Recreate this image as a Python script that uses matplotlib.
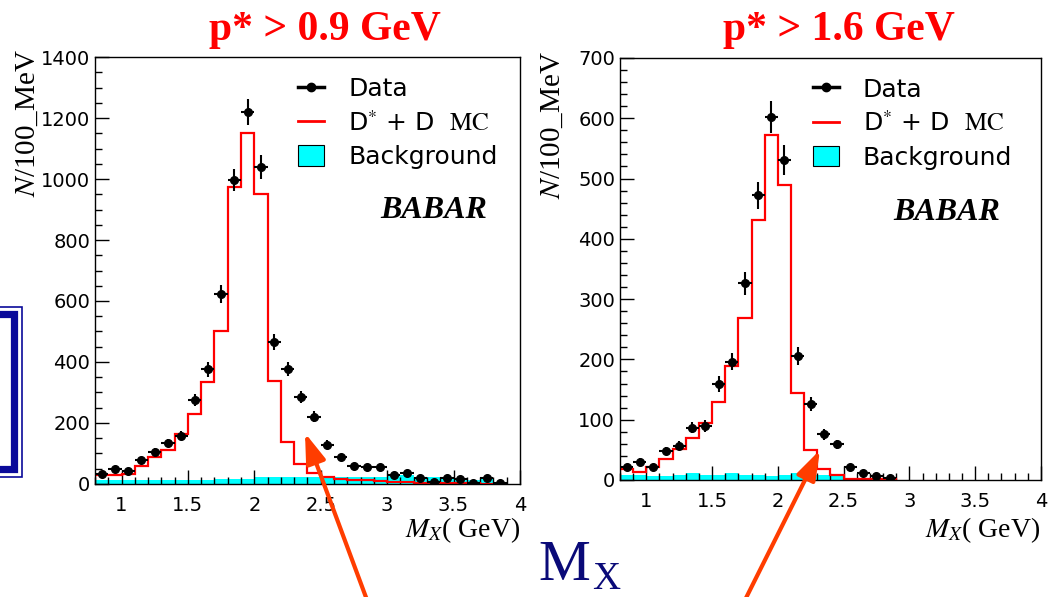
import numpy as np
import matplotlib.pyplot as plt
from matplotlib.lines import Line2D
from matplotlib.patches import Patch, Rectangle
from matplotlib.ticker import MultipleLocator, FuncFormatter

plt.rcParams['mathtext.fontset'] = 'stix'

bin_lo = 0.8
bin_w = 0.1

# p* > 0.9 GeV  (bins start at 0.8, width 0.1)
data_09 = [33, 48, 42, 80, 105, 133, 158, 276, 376, 624, 998, 1220, 1039, 466, 376, 284,
           220, 129, 88, 59, 57, 55, 31, 36, 20, 5, 20, 16, 4, 19, 2]
err_09 = [8, 9, 8, 10, 12, 13, 15, 20, 24, 30, 36, 42, 40, 26, 23, 20,
          18, 14, 11, 9, 9, 9, 7, 7, 6, 4, 6, 5, 3, 5, 3]
mc_09 = [28, 30, 34, 60, 87, 113, 165, 228, 335, 502, 975, 1150, 952, 338, 138, 67,
         35, 22, 16, 13, 12, 9, 7, 7, 3, 2, 2, 2, 2, 1, 1]
bkg_09 = [14, 14, 12, 12, 14, 14, 14, 14, 14, 16, 16, 16, 22, 24, 22, 22,
          22, 24, 22, 22, 24, 24, 28, 28, 24, 22, 22, 20, 12, 16, 3]

# p* > 1.6 GeV
data_16 = [22, 30, 21, 48, 57, 87, 90, 159, 196, 326, 472, 602, 531, 205, 126, 76,
           59, 22, 11, 7, 4]
err_16 = [5, 6, 5, 7, 8, 9, 10, 13, 14, 19, 23, 27, 25, 15, 12, 9,
          8, 5, 4, 3, 2]
mc_16 = [18, 13, 22, 35, 52, 69, 95, 129, 189, 268, 432, 572, 489, 145, 49, 19,
         8, 2, 1, 1, 1]
bkg_16 = [8, 8, 7, 7, 8, 11, 8, 8, 11, 8, 8, 7, 8, 12, 8, 8,
          8, 3, 2, 2, 1]

titles = ["p* > 0.9 GeV", "p* > 1.6 GeV"]
legend_labels = ["Data", r"D$^{*}$ + D  $\mathrm{MC}$", "Background"]


def draw_panel(ax, data, err, mc, bkg, ymax, ymajor, yminor, leg_xy, babar_xy):
    mc_edges = bin_lo + bin_w * np.arange(len(mc) + 1)
    bkg_edges = bin_lo + bin_w * np.arange(len(bkg) + 1)
    x = bin_lo + bin_w * (np.arange(len(data)) + 0.5)
    ax.stairs(bkg, bkg_edges, fill=True, color='#00ffff', zorder=1)
    ax.stairs(mc, mc_edges, color='red', lw=1.6, zorder=2)
    ax.errorbar(x, data, yerr=err, xerr=bin_w / 2, fmt='o', color='black',
                ms=5.5, elinewidth=1.5, capsize=0, zorder=3)
    ax.set_xlim(0.8, 4.0)
    ax.set_ylim(0, ymax)
    ax.xaxis.set_major_locator(MultipleLocator(0.5))
    ax.xaxis.set_minor_locator(MultipleLocator(0.1))
    ax.yaxis.set_major_locator(MultipleLocator(ymajor))
    ax.yaxis.set_minor_locator(MultipleLocator(yminor))
    ax.xaxis.set_major_formatter(FuncFormatter(lambda v, p: f'{v:g}'))
    ax.tick_params(which='both', direction='in', top=False, right=False,
                   labelsize=14, width=1)
    ax.tick_params(which='major', length=10)
    ax.tick_params(which='minor', length=5)
    ax.tick_params(axis='x', pad=9)
    for s in ax.spines.values():
        s.set_linewidth(1)
    handles = [Line2D([], [], color='black', marker='o', ms=6, lw=2.5),
               Line2D([], [], color='red', lw=2),
               Patch(facecolor='#00ffff', edgecolor='black', lw=0.8)]
    ax.legend(handles, legend_labels, loc='upper left', bbox_to_anchor=leg_xy,
              frameon=False, prop={'family': 'DejaVu Sans', 'size': 18},
              handlelength=1.05, handleheight=0.9, handletextpad=0.95,
              labelspacing=0.38, borderpad=0, borderaxespad=0)
    ax.text(babar_xy[0], babar_xy[1], "BABAR", transform=ax.transAxes,
            ha='right', va='baseline', family='Liberation Serif',
            weight='bold', style='italic', size=23)


fig = plt.figure(figsize=(10.54, 5.97), dpi=100)
ax1 = fig.add_axes([0.0901, 0.1893, 0.4032, 0.7152])
ax2 = fig.add_axes([0.5882, 0.1960, 0.3994, 0.7069])

draw_panel(ax1, data_09, err_09, mc_09, bkg_09, 1400, 200, 50,
           (0.478, 0.953), (0.922, 0.623))
draw_panel(ax2, data_16, err_16, mc_16, bkg_16, 700, 100, 20,
           (0.458, 0.953), (0.903, 0.616))

# overlay in pixel coordinates for the slide decorations
ov = fig.add_axes([0, 0, 1, 1], zorder=10)
ov.set_xlim(0, 1054)
ov.set_ylim(597, 0)
ov.axis('off')
ov.patch.set_alpha(0)

for xc, t in zip([325, 839], titles):
    ov.text(xc, 40, t, ha='center', va='baseline', color='red',
            family='Liberation Serif', weight='bold', size=30)

for xc, yt in [(28, 49), (553, 51)]:
    ov.text(xc, yt, r"$N$/100_MeV", rotation=90, ha='center', va='top',
            family='Liberation Serif', size=21)

for xr in [520, 1040]:
    ov.text(xr, 537, r"$M_X$( GeV)", ha='right', va='baseline',
            family='Liberation Serif', size=20)

navy = '#0a0a78'
ov.text(538, 580, "M", ha='left', va='baseline', color=navy,
        family='Liberation Serif', size=42)
ov.text(592, 589, "X", ha='left', va='baseline', color=navy,
        family='Liberation Serif', size=28)

# double-line bracket on the left edge
box_c = '#0a0a9a'
ov.add_patch(Rectangle((-10, 307), 32, 170, fill=False, ec=box_c, lw=1.2))
ov.plot([-10, 13.5, 13.5, -10], [313.5, 313.5, 469, 469], color=box_c,
        lw=5.2, solid_joinstyle='miter')

arrow_c = '#ff3d00'
for tail, tip in [((367, 600), (305, 433)), ((745, 600), (820, 450))]:
    ov.annotate('', xy=tip, xytext=tail,
                arrowprops=dict(arrowstyle='-|>,head_length=1.8,head_width=0.6',
                                mutation_scale=10, lw=3, color=arrow_c,
                                shrinkA=0, shrinkB=0))

fig.savefig('out.png', dpi=100)
